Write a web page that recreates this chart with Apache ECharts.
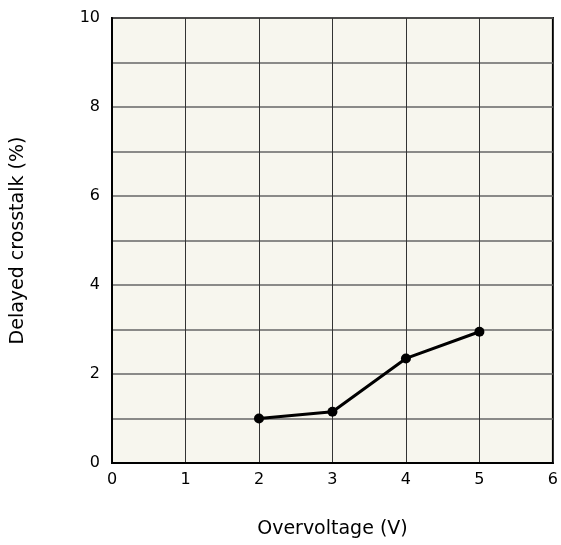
<!DOCTYPE html>
<html>
<head>
<meta charset="utf-8">
<script src="https://cdn.jsdelivr.net/npm/echarts@6/dist/echarts.min.js"></script>
<style>html,body{margin:0;padding:0;background:#fff}#c{width:561px;height:545px}</style>
</head>
<body>
<div id="c"></div>
<script>
var overvoltage = [2, 3, 4, 5];
var delayedCrosstalk = [1.0, 1.15, 2.35, 2.95];
var xTitle = 'Overvoltage (V)';
var yTitle = 'Delayed crosstalk (%)';

var chart = echarts.init(document.getElementById('c'), null, {renderer: 'canvas'});
var font = 'DejaVu Sans, Verdana, sans-serif';
chart.setOption({
  animation: false,
  grid: {left: 112, top: 18, right: 0, bottom: 82, show: true, backgroundColor: '#f7f6ee', borderColor: '#000', borderWidth: 2},
  xAxis: {
    type: 'value', min: 0, max: 6, interval: 1,
    name: xTitle, nameLocation: 'middle', nameGap: 57,
    nameTextStyle: {fontSize: 19, color: '#000', fontFamily: font},
    axisLine: {show: true, lineStyle: {color: '#000', width: 2}},
    axisTick: {show: false},
    axisLabel: {fontSize: 16, color: '#000', fontFamily: font, margin: 9},
    splitLine: {show: true, lineStyle: {color: '#333', width: 1}}
  },
  yAxis: {
    type: 'value', min: 0, max: 10, interval: 1,
    name: yTitle, nameLocation: 'middle', nameGap: 84, nameRotate: 90,
    nameTextStyle: {fontSize: 19, color: '#000', fontFamily: font},
    axisLine: {show: true, lineStyle: {color: '#000', width: 2}},
    axisTick: {show: false},
    axisLabel: {fontSize: 16, color: '#000', fontFamily: font, margin: 12,
      formatter: function (v) { return v % 2 === 0 ? String(v) : ''; }},
    splitLine: {show: true, lineStyle: {color: '#666', width: 1.5}}
  },
  series: [{
    type: 'line',
    data: overvoltage.map(function (x, i) { return [x, delayedCrosstalk[i]]; }),
    symbol: 'circle', symbolSize: 10,
    lineStyle: {color: '#000', width: 3},
    itemStyle: {color: '#000'}
  }]
});
</script>
</body>
</html>
